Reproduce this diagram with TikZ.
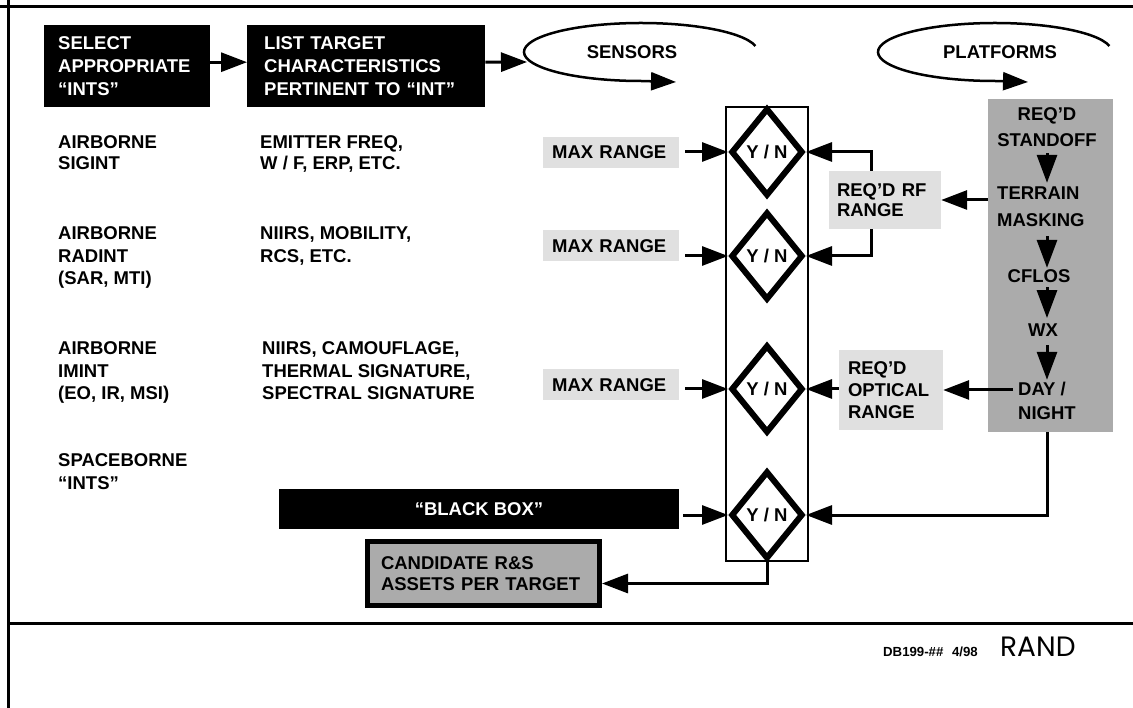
\documentclass[tikz,border=0pt]{standalone}
\usepackage{fontspec}
\setmainfont{Liberation Sans}
\newfontfamily\randfont{Poppins}
\usetikzlibrary{arrows.meta,shapes.geometric}
\definecolor{lgray}{HTML}{E0E0E0}
\definecolor{dgray}{HTML}{ABABAB}
\begin{document}
\begin{tikzpicture}[x=1pt,y=-1pt,
  fnt/.style={font=\bfseries\fontsize{18.5}{#1}\selectfont},
  fnt/.default=22.5,
  lbl/.style={fnt=#1, inner sep=0pt, align=left, anchor=north west},
  lbl/.default=22.5,
  ynd/.style={diamond, draw, line width=6pt, minimum width=72pt, minimum height=88pt, inner sep=0pt, fnt},
  conn/.style={line width=3pt, -{Triangle[length=26pt,width=19pt]}},
  vconn/.style={line width=3pt, -{Triangle[length=28pt,width=20pt]}},
  loopline/.style={line width=2.5pt, -{Triangle[length=25pt,width=18pt]}},
  frame/.style={line width=3pt}
]
\useasboundingbox (0,0) rectangle (1133,708);
% frame
\draw[frame] (0,6.5) -- (1133,6.5);
\draw[frame] (8,0) -- (8,708);
\draw[frame] (8,623) -- (1133,623);

% top boxes
\node[fill=black, text=white, fnt=23, align=left, text width=138pt, inner xsep=14pt, inner ysep=0pt, minimum height=82pt, anchor=north west] (b1) at (44,25) {SELECT\\APPROPRIATE\\“INTS”};
\node[fill=black, text=white, fnt=23, align=left, text width=204pt, inner xsep=17pt, inner ysep=0pt, minimum height=82pt, anchor=north west] (b2) at (247,25) {LIST TARGET\\CHARACTERISTICS\\PERTINENT TO “INT”};
\draw[conn] ([yshift=4pt]b1.east) -- ([yshift=4pt]b2.west);
\coordinate (sensL) at (527,62);
\draw[conn] ([yshift=4pt]b2.east) -- (sensL);

% sensors / platforms loops
\node[fnt, inner sep=0pt] (sens) at (632,52) {SENSORS};
\draw[loopline] ([shift={(12:117pt and 29pt)}]641,52) arc[start angle=12,end angle=270,x radius=117pt,y radius=29pt] -- (676,82);
\node[fnt, inner sep=0pt] (plat) at (1000,52) {PLATFORMS};
\draw[loopline] ([shift={(12:117pt and 29pt)}]995,52) arc[start angle=12,end angle=270,x radius=117pt,y radius=29pt] -- (1028,82);

% left column texts
\node[lbl=21] (t1) at (58,135.8) {AIRBORNE\\SIGINT};
\node[lbl=21] (c1) at (260,135.8) {EMITTER FREQ,\\W / F, ERP, ETC.};
\node[lbl] (t2) at (58,226.8) {AIRBORNE\\RADINT\\(SAR, MTI)};
\node[lbl] (c2) at (260,226.8) {NIIRS, MOBILITY,\\RCS, ETC.};
\node[lbl] (t3) at (58,341.8) {AIRBORNE\\IMINT\\(EO, IR, MSI)};
\node[lbl] (c3) at (262,341.8) {NIIRS, CAMOUFLAGE,\\THERMAL SIGNATURE,\\SPECTRAL SIGNATURE};
\node[lbl=23] (t4) at (58,453.8) {SPACEBORNE\\“INTS”};

% decision column
\node[draw, line width=1.7pt, minimum width=82pt, minimum height=454pt] (col) at (767,334) {};
\node[ynd] (d1) at (767,152) {Y / N};
\node[ynd] (d2) at (767,256) {Y / N};
\node[ynd] (d3) at (767,389) {Y / N};
\node[ynd] (d4) at (767,515) {Y / N};

% max range boxes
\node[fill=lgray, fnt, align=left, text width=118pt, inner xsep=9pt, inner ysep=0pt, minimum height=31pt, anchor=west] (m1) at (543,152.5) {MAX RANGE};
\node[fill=lgray, fnt, align=left, text width=118pt, inner xsep=9pt, inner ysep=0pt, minimum height=31pt, anchor=west] (m2) at (543,246) {MAX RANGE};
\node[fill=lgray, fnt, align=left, text width=118pt, inner xsep=9pt, inner ysep=0pt, minimum height=31pt, anchor=west] (m3) at (543,385) {MAX RANGE};
\draw[conn, shorten <=6pt] (m1.east |- d1.west) -- (d1.west);
\draw[conn, shorten <=6pt] (m2.east |- d2.west) -- (d2.west);
\draw[conn, shorten <=6pt] (m3.east |- d3.west) -- (d3.west);

% platforms box
\node[fill=dgray, minimum width=125pt, minimum height=333pt, inner sep=0pt] (pbox) at (1050.5,265.5) {};
\node[fnt=26, inner sep=0pt, align=center, anchor=north] (s1) at (1047,107.8) {REQ’D\\STANDOFF};
\node[lbl=27] (s2) at (997,186.8) {TERRAIN\\MASKING};
\node[fnt, inner sep=0pt, anchor=base] (s3) at (1039,283) {CFLOS};
\node[fnt, inner sep=0pt, anchor=base] (s4) at (1043,337) {WX};
\node[lbl=24] (s5) at (1018,381.8) {DAY /\\NIGHT};
\coordinate (ax) at (1047,0);
\draw[vconn, shorten <=6pt, shorten >=4pt] (s1.south -| ax) -- (s2.north -| ax);
\draw[vconn, shorten <=9pt, shorten >=2pt] (s2.south -| ax) -- (s3.north -| ax);
\draw[vconn, shorten <=4pt, shorten >=6pt] (s3.south -| ax) -- (s4.north -| ax);
\draw[vconn, shorten <=8pt, shorten >=2pt] (s4.south -| ax) -- (s5.north -| ax);

% required range boxes
\node[fill=lgray, fnt=20, align=left, text width=96pt, inner xsep=8pt, inner ysep=0pt, minimum height=58pt] (rf) at (885,200) {REQ’D RF\\RANGE};
\node[fill=lgray, fnt=22, align=left, text width=86pt, inner xsep=9pt, inner ysep=0pt, minimum height=80pt] (opt) at (891,390) {REQ’D\\OPTICAL\\RANGE};
\draw[conn] ([xshift=-14pt]rf.north) |- (d1.east);
\draw[conn] ([xshift=-14pt]rf.south) |- (d2.east);
\draw[conn] (pbox.west |- rf.east) -- (rf.east);
\coordinate (dayL) at ([xshift=-5pt]s5.west);
\draw[conn] (dayL |- opt.east) -- (opt.east);
\draw[conn] (opt.west |- d3.east) -- (d3.east);
\draw[conn] (ax |- pbox.south) |- (d4.east);

% black box and result
\node[fill=black, text=white, fnt, inner sep=0pt, minimum width=400pt, minimum height=40pt] (bb) at (479,509) {“BLACK BOX”};
\draw[conn, shorten <=4pt] (bb.east |- d4.west) -- (d4.west);
\node[fill=dgray, draw=black, line width=5pt, fnt=21, align=left, text width=205pt, inner xsep=13.5pt, inner ysep=0pt, minimum height=64pt] (cand) at (483.5,573.5) {CANDIDATE R\&S\\ASSETS PER TARGET};
\draw[conn] (d4.south) |- ([yshift=-10pt]cand.east);

% footer
\node[font=\bfseries\fontsize{13.2}{16}\selectfont, inner sep=0pt, anchor=base west] (ref) at (883,656) {DB199-\#\#\hspace{5pt} 4/98};
\node[font=\randfont\fontsize{28}{32}\selectfont, inner sep=0pt, anchor=base west] (rand) at (1000,656) {RAND};
\end{tikzpicture}
\end{document}
